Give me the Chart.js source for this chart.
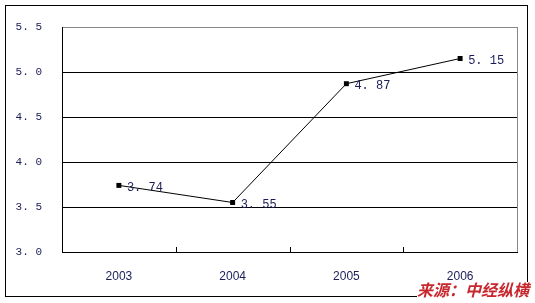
<!DOCTYPE html>
<html>
<head>
<meta charset="utf-8">
<script src="https://cdn.jsdelivr.net/npm/chart.js@4"></script>
<style>
  html, body { margin: 0; padding: 0; background: #fff; }
  #wrap { width: 535px; height: 303px; }
</style>
</head>
<body>
<div id="wrap"><canvas id="c" width="535" height="303"></canvas></div>
<script>
const years = ['2003', '2004', '2005', '2006'];
const values = [3.74, 3.55, 4.87, 5.15];
const valueLabels = ['3. 74', '3. 55', '4. 87', '5. 15'];
const yTickLabels = ['3. 0', '3. 5', '4. 0', '4. 5', '5. 0', '5. 5'];
const sourceText = '来源：中经纵横';

const textColor = '#1c1c5a';
const monoFont = { family: 'Liberation Mono, DejaVu Sans Mono, monospace', size: 12 };

// frame, inner ticks, right border, value labels and source note
const decor = {
  id: 'decor',
  afterDraw(chart) {
    const { ctx, chartArea: a } = chart;
    ctx.save();
    ctx.strokeStyle = '#000';
    ctx.lineWidth = 1;
    ctx.strokeRect(5.5, 5.5, 522, 291);

    ctx.strokeStyle = '#888';
    ctx.beginPath();
    ctx.moveTo(Math.round(a.right) + 0.5, a.top);
    ctx.lineTo(Math.round(a.right) + 0.5, a.bottom);
    ctx.stroke();

    // category boundary ticks pointing into the plot
    ctx.strokeStyle = '#000';
    const step = (a.right - a.left) / years.length;
    for (let i = 1; i < years.length; i++) {
      const px = Math.round(a.left + step * i) + 0.5;
      ctx.beginPath();
      ctx.moveTo(px, a.bottom);
      ctx.lineTo(px, a.bottom - 5);
      ctx.stroke();
    }

    const meta = chart.getDatasetMeta(0);
    ctx.font = monoFont.size + 'px ' + monoFont.family;
    ctx.fillStyle = textColor;
    ctx.textBaseline = 'middle';
    ctx.textAlign = 'left';
    meta.data.forEach((pt, i) => {
      ctx.fillText(valueLabels[i], pt.x + 8, pt.y + 2);
    });

    ctx.font = 'italic bold 16px "Noto Sans CJK SC", sans-serif';
    const w = ctx.measureText(sourceText).width;
    ctx.fillStyle = '#fff';
    ctx.fillRect(529 - w, 282, w, 16);
    ctx.fillStyle = '#c8282d';
    ctx.textAlign = 'right';
    ctx.textBaseline = 'alphabetic';
    ctx.fillText(sourceText, 529, 296);
    ctx.restore();
  }
};

new Chart(document.getElementById('c'), {
  type: 'line',
  data: {
    labels: years,
    datasets: [{
      data: values,
      borderColor: '#000',
      borderWidth: 1,
      backgroundColor: '#000',
      pointStyle: 'rect',
      pointRadius: 3.5,
      pointBorderWidth: 0,
      tension: 0
    }]
  },
  options: {
    responsive: false,
    animation: false,
    layout: { padding: { left: 5, top: 27, right: 18, bottom: 0 } },
    plugins: { legend: { display: false }, tooltip: { enabled: false } },
    scales: {
      x: {
        offset: true,
        afterFit: s => { s.height = 51; },
        grid: { display: false },
        border: { color: '#000', width: 1 },
        ticks: { color: textColor, padding: 9, font: { family: 'Liberation Sans, sans-serif', size: 12 } }
      },
      y: {
        min: 3.0,
        max: 5.5,
        afterFit: s => { s.width = 57; },
        afterBuildTicks: s => {
          s.ticks = yTickLabels.map(t => ({ value: parseFloat(t.replace(' ', '')) }));
        },
        grid: {
          drawTicks: false,
          color: ctx => ctx.tick && ctx.tick.value === 5.5 ? '#888' : '#000'
        },
        border: { color: '#000', width: 1 },
        ticks: {
          color: textColor,
          padding: 20,
          font: { family: monoFont.family, size: 11 },
          callback: (v, i) => yTickLabels[i]
        }
      }
    }
  },
  plugins: [decor]
});
</script>
</body>
</html>
